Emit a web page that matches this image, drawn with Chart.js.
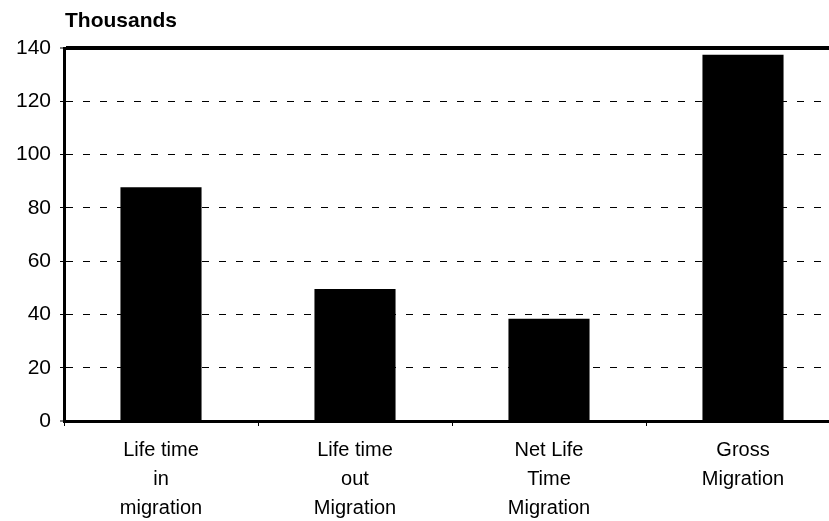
<!DOCTYPE html>
<html>
<head>
<meta charset="utf-8">
<script src="https://cdn.jsdelivr.net/npm/chart.js@4/dist/chart.umd.min.js"></script>
<style>
  html, body { margin: 0; padding: 0; background: #fff; overflow: hidden; }
  #wrap { position: relative; width: 842px; height: 521px; }
</style>
</head>
<body>
<div id="wrap"><canvas id="chart"></canvas></div>
<script>
const categories = [
  ['Life time', 'in', 'migration'],
  ['Life time', 'out', 'Migration'],
  ['Net Life', 'Time', 'Migration'],
  ['Gross', 'Migration']
];
const migrationValues = [87.7, 49.5, 38.4, 137.5];
const yTicks = [0, 20, 40, 60, 80, 100, 120, 140];
const unitLabel = 'Thousands';

const FONT = "'Liberation Sans', Arial, sans-serif";

// unit caption above the value axis
const unitCaption = {
  id: 'unitCaption',
  afterDraw(chart) {
    const ctx = chart.ctx;
    ctx.save();
    ctx.font = 'bold 21px ' + FONT;
    ctx.fillStyle = '#000';
    ctx.textBaseline = 'middle';
    ctx.textAlign = 'left';
    ctx.fillText(unitLabel, 65, 21);
    ctx.restore();
  }
};

new Chart(document.getElementById('chart'), {
  type: 'bar',
  data: {
    labels: categories,
    datasets: [{
      data: migrationValues,
      backgroundColor: '#000',
      borderWidth: 0,
      barPercentage: 0.418,
      categoryPercentage: 1
    }]
  },
  options: {
    responsive: true,
    maintainAspectRatio: false,
    animation: false,
    layout: { padding: { top: 48, right: 2, left: 0, bottom: 0 } },
    plugins: { legend: { display: false }, tooltip: { enabled: false } },
    scales: {
      x: {
        grid: {
          offset: true,
          drawOnChartArea: false,
          drawTicks: true,
          tickLength: 5,
          tickColor: '#000',
          tickWidth: 1
        },
        border: { display: true, color: '#000', width: 3 },
        ticks: {
          color: '#000',
          font: { family: FONT, size: 20, lineHeight: 1.45 },
          padding: 10,
          maxRotation: 0,
          autoSkip: false
        },
        afterFit(scale) { scale.height = 100; }
      },
      y: {
        min: 0,
        max: 140,
        afterBuildTicks(scale) { scale.ticks = yTicks.map(v => ({ value: v })); },
        grid: {
          color: '#000',
          lineWidth: c => c.tick.value === 140 ? 4 : (c.tick.value === 0 ? 0 : 1),
          drawTicks: true,
          tickLength: 4,
          tickColor: '#000',
          tickWidth: 1
        },
        border: {
          display: true,
          color: '#000',
          width: 3,
          dash: c => c.tick && c.tick.value === 140 ? [] : [7, 10]
        },
        ticks: {
          color: '#000',
          font: { family: FONT, size: 21 },
          padding: 9
        },
        afterFit(scale) { scale.width = 64; }
      }
    }
  },
  plugins: [unitCaption]
});
</script>
</body>
</html>
